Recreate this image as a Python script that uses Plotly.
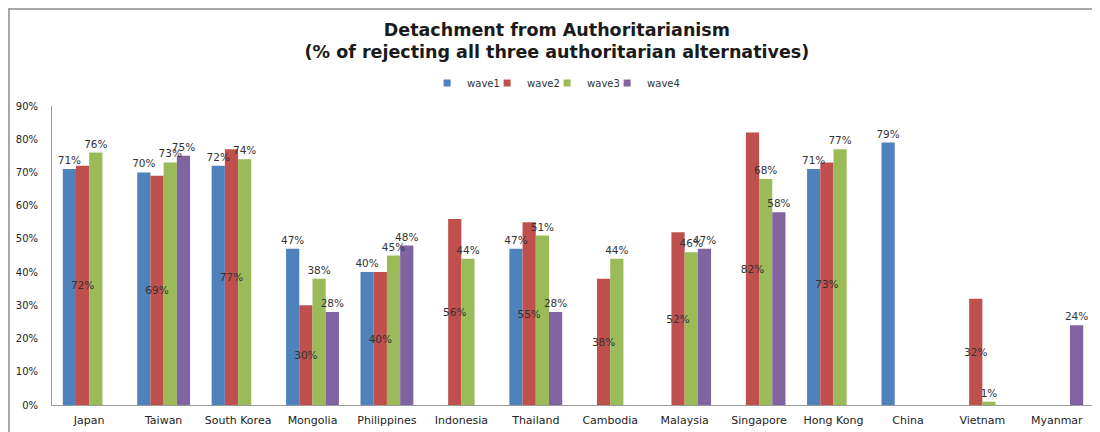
import plotly.graph_objects as go

countries = ["Japan", "Taiwan", "South Korea", "Mongolia", "Philippines", "Indonesia",
             "Thailand", "Cambodia", "Malaysia", "Singapore", "Hong Kong", "China",
             "Vietnam", "Myanmar"]

wave1 = [71, 70, 72, 47, 40, None, 47, None, None, None, 71, 79, None, None]
wave2 = [72, 69, 77, 30, 40, 56, 55, 38, 52, 82, 73, None, 32, None]
wave3 = [76, 73, 74, 38, 45, 44, 51, 44, 46, 68, 77, None, 1, None]
wave4 = [None, 75, None, 28, 48, None, 28, None, 47, 58, None, None, None, 24]

y_ticks = [0, 10, 20, 30, 40, 50, 60, 70, 80, 90]
y_tick_text = [f"{t}%" for t in y_ticks]

series = [
    ("wave1", wave1, "#4F81BD", "outside"),
    ("wave2", wave2, "#C0504D", "inside"),
    ("wave3", wave3, "#9BBB59", "outside"),
    ("wave4", wave4, "#8064A2", "outside"),
]

label_font = dict(family="DejaVu Sans", size=10.5, color="#333333")
axis_font = dict(family="DejaVu Sans", size=10, color="#222222")

fig = go.Figure()

# visible bars
for name, vals, color, pos in series:
    fig.add_trace(go.Bar(
        x=countries,
        y=vals,
        name=name,
        marker_color=color,
        marker_line_width=0,
        showlegend=False,
        legendgroup=name,
        hoverinfo="skip",
    ))

# data labels on an overlaid axis so they sit on top of every bar
for name, vals, color, pos in series:
    fig.add_trace(go.Bar(
        x=countries,
        y=vals,
        xaxis="x2",
        name=name,
        marker_color="rgba(0,0,0,0)",
        marker_line_width=0,
        text=[f"{v}%" if v is not None else "" for v in vals],
        textposition=pos,
        textangle=0,
        insidetextanchor="middle",
        constraintext="none",
        textfont=label_font,
        insidetextfont=label_font,
        outsidetextfont=label_font,
        cliponaxis=False,
        showlegend=False,
        legendgroup=name,
        hoverinfo="skip",
    ))

# small square legend keys like the original
for i, (name, vals, color, pos) in enumerate(series):
    fig.add_trace(go.Scatter(
        x=[None], y=[None],
        mode="markers",
        marker=dict(symbol="square", size=7, color=color),
        name=name,
        legendgroup=name,
        showlegend=True,
        legendwidth=40 if i == len(series) - 1 else None,
    ))

# the page body adds an 8px offset, so the layout is shifted up/left by 8px
fig.update_layout(
    width=1100,
    height=432,
    paper_bgcolor="white",
    plot_bgcolor="white",
    margin=dict(l=44, r=14, t=98, b=35),
    barmode="group",
    bargap=0.29,
    bargroupgap=0,
    title=dict(
        text="Detachment from Authoritarianism<br>(% of rejecting all three authoritarian alternatives)",
        font=dict(family="DejaVu Sans", size=17.5, color="#1a1a1a", weight="bold"),
        x=0.499, xanchor="center",
        y=0.936, yanchor="middle",
    ),
    legend=dict(
        orientation="h",
        x=0.36, xanchor="left",
        y=1.077, yanchor="middle",
        font=dict(family="DejaVu Sans", size=10, color="#333333"),
        itemwidth=30,
        entrywidth=15,
        bgcolor="rgba(0,0,0,0)",
    ),
    xaxis=dict(
        showline=True, linecolor="#9a9a9a", linewidth=1,
        showgrid=False, ticks="", automargin=False,
        tickfont=dict(family="DejaVu Sans", size=11, color="#222222"),
        ticklabelstandoff=5,
    ),
    xaxis2=dict(overlaying="x", matches="x", visible=False),
    yaxis=dict(
        range=[0, 90],
        tickvals=y_ticks,
        ticktext=y_tick_text,
        showline=True, linecolor="#9a9a9a", linewidth=1,
        showgrid=False, zeroline=False, ticks="", automargin=False,
        tickfont=axis_font,
        ticklabelstandoff=11,
    ),
    shapes=[dict(
        type="rect", xref="paper", yref="paper",
        x0=-0.0413, x1=1.03, y0=-0.2, y1=1.3244,
        line=dict(color="#8c8c8c", width=1.5),
        fillcolor="rgba(0,0,0,0)",
        layer="below",
    )],
)

fig.write_html("out.html")
